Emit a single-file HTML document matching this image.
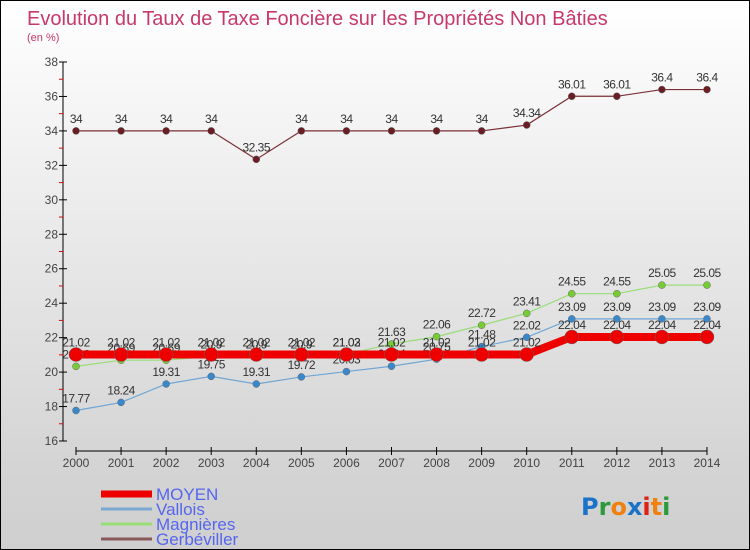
<!DOCTYPE html>
<html><head><meta charset="utf-8"><style>
body{margin:0}
#c{width:748px;height:548px;border:1px solid #000;background:linear-gradient(#ffffff,#d4d4d4 85%,#cfcfcf);position:relative;font-family:"Liberation Sans",sans-serif;overflow:hidden}
</style></head><body>
<div id="c">
<svg id="s" width="748" height="548">
<text x="26" y="24" font-size="20" fill="#c8386a" font-family="Liberation Sans">Evolution du Taux de Taxe Foncière sur les Propriétés Non Bâties</text>
<text x="26" y="40" font-size="11" fill="#c8386a">(en %)</text>
</svg>
</div>
<script>
const years=[2000,2001,2002,2003,2004,2005,2006,2007,2008,2009,2010,2011,2012,2013,2014];
const moyen=[21.02,21.02,21.02,21.02,21.02,21.02,21.02,21.02,21.02,21.02,21.02,22.04,22.04,22.04,22.04];
const vallois=[17.77,18.24,19.31,19.75,19.31,19.72,20.03,20.34,20.75,21.48,22.02,23.09,23.09,23.09,23.09];
const magnieres=[20.33,20.69,20.69,20.9,20.9,20.9,21.03,21.63,22.06,22.72,23.41,24.55,24.55,25.05,25.05];
const gerbeviller=[34,34,34,34,32.35,34,34,34,34,34,34.34,36.01,36.01,36.4,36.4];
const yTicks=[16,18,20,22,24,26,28,30,32,34,36,38];
const NS="http://www.w3.org/2000/svg";
const s=document.getElementById('s');
const X=i=>75+i*45.07;
const Y=v=>440-(v-16)*(379/22);
function el(t,a,p){const e=document.createElementNS(NS,t);for(const k in a)e.setAttribute(k,a[k]);(p||s).appendChild(e);return e;}
let ya=el('line',{x1:62,y1:61,x2:62,y2:440,stroke:'#000'});


let xa=el('line',{x1:75,y1:450,x2:706,y2:450,stroke:'#000'});


yTicks.forEach(v=>{
 el('line',{x1:58,y1:Y(v),x2:66,y2:Y(v),stroke:'#000'});
 if(v<38) el('line',{x1:58,y1:Y(v+1),x2:62,y2:Y(v+1),stroke:'#e00'});
 const t=el('text',{x:57,y:Y(v)+4,'font-size':12,fill:'#444','text-anchor':'end'});
 t.textContent=v;
 
 
});
years.forEach((y,i)=>{
 el('line',{x1:X(i),y1:446,x2:X(i),y2:454,stroke:'#000'});
 const t=el('text',{x:X(i),y:466,'font-size':12,fill:'#444','text-anchor':'middle'});
 t.textContent=y;
 
 
});
function series(data,color,w,r,name,fill){
 const g=el('g',{});
 
 
 el('polyline',{points:data.map((v,i)=>X(i)+','+Y(v)).join(' '),fill:'none',stroke:color,'stroke-width':w},g);
 data.forEach((v,i)=>{
  const c=el('circle',{cx:X(i),cy:Y(v),r:r,fill:fill,stroke:'#666','stroke-width':0.5},g);
  
  
  const t=el('text',{x:X(i),y:Y(v)-8,'font-size':12,fill:'#333','text-anchor':'middle','letter-spacing':'-0.5'},g);
  t.textContent=v;
  
  
 });
}
series(gerbeviller,'#7a3036',1.2,3.5,'gerbeviller','#6a1e24');
series(magnieres,'#99dd77',1.2,3.5,'magnieres','#77cc33');
series(vallois,'#6fa6d6',1.2,3.5,'vallois','#3a88cc');
series(moyen,'#ee0000',8,7,'moyen','#ee0000');
const leg=[['MOYEN','#ee0000',7],['Vallois','#7aa8d0',3],['Magnières','#99dd77',3],['Gerbéviller','#8a5a5a',3]];
leg.forEach((l,i)=>{
 const y=493+i*15;
 const g=el('g',{});
 
 
 el('line',{x1:100,y1:y,x2:151,y2:y,stroke:l[1],'stroke-width':l[2]},g);
 const t=el('text',{x:155,y:y+6,'font-size':17,fill:'#5566ee'},g);
 t.textContent=l[0];
});
const lg=el('text',{x:580,y:514,'font-size':24,'font-weight':'bold','font-family':'DejaVu Sans'});


[['P','#1a73c8'],['r','#2a9a3a'],['o','#f08010'],['x','#1a73c8'],['i','#e02010'],['t','#f08010'],['i','#2a9a3a']].forEach(p=>{el('tspan',{fill:p[1]},lg).textContent=p[0];});
</script>
</body></html>
